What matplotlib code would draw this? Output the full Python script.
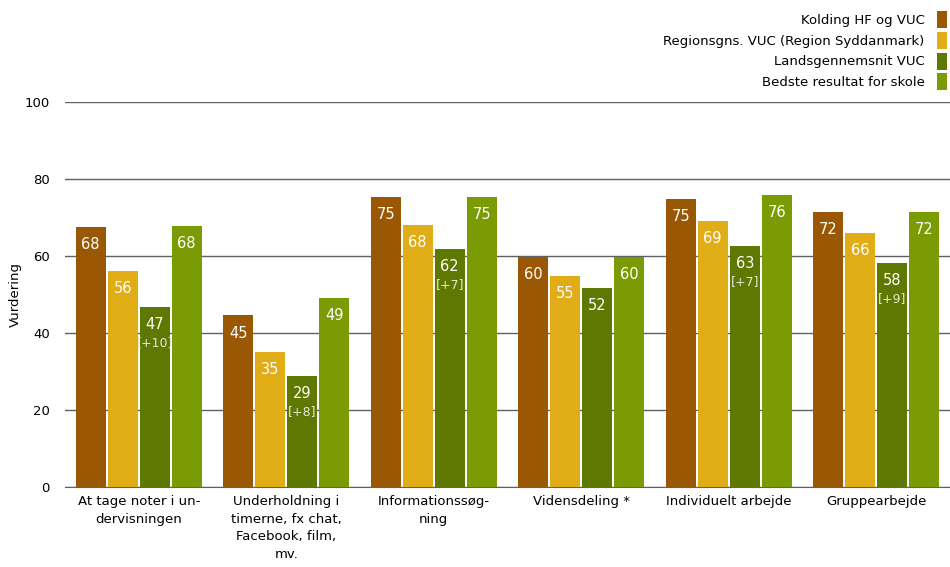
import numpy as np
import matplotlib
matplotlib.use('Agg')
import matplotlib.pyplot as plt

# Data
kategorier = ['At tage noter i un-\ndervisningen',
              'Underholdning i\ntimerne, fx chat,\nFacebook, film,\nmv.',
              'Informationssøg-\nning',
              'Vidensdeling *',
              'Individuelt arbejde',
              'Gruppearbejde']
serier = ['Kolding HF og VUC',
          'Regionsgns. VUC (Region Syddanmark)',
          'Landsgennemsnit VUC',
          'Bedste resultat for skole']
kolding = [67.6, 44.6, 75.3, 59.7, 74.8, 71.5]
region = [56.1, 35.1, 68.0, 54.8, 69.1, 66.0]
lands = [46.8, 28.8, 61.8, 51.7, 62.6, 58.2]
bedste = [67.8, 49.1, 75.3, 59.7, 75.8, 71.5]
forskel = ['[+10]', '[+8]', '[+7]', '', '[+7]', '[+9]']
yticks = [0, 20, 40, 60, 80, 100]

farver = ['#9B5804', '#E0AD17', '#5F7801', '#7A9B03']

fig = plt.figure(figsize=(9.5, 5.67), dpi=100)
ax = fig.add_axes([0.0684, 0.141, 0.9316, 0.679])

x = np.arange(len(kategorier))
bw = 0.205
step = 0.217
alle = [kolding, region, lands, bedste]
for i, (vals, navn, c) in enumerate(zip(alle, serier, farver)):
    pos = x + (i - 1.5) * step
    ax.bar(pos, vals, width=bw, color=c, label=navn, zorder=3)
    # værdi inde i søjlen
    for p, v in zip(pos, vals):
        ax.text(p, v - 4.6, str(int(round(v))), ha='center', va='center',
                color='white', fontsize=10.5, zorder=4)
    if i == 2:
        for p, v, f in zip(pos, vals, forskel):
            if f:
                ax.text(p, v - 9.2, f, ha='center', va='center',
                        color='#E6E6D8', fontsize=9, zorder=4)

ax.set_xlim(-0.5, len(kategorier) - 0.5)
ax.set_ylim(0, 100)
ax.set_yticks(yticks)
ax.set_xticks(x)
ax.set_xticklabels(kategorier, fontsize=9.5, linespacing=1.45)
ax.tick_params(axis='y', length=0, pad=11, labelsize=9.5)
ax.tick_params(axis='x', length=0, pad=6)
ax.yaxis.grid(True, color='#606060', linewidth=1.0, zorder=0)
ax.set_axisbelow(True)
for s in ['top', 'right', 'left']:
    ax.spines[s].set_visible(False)
ax.spines['bottom'].set_color('#606060')
ax.set_ylabel('Vurdering', fontsize=9.5, labelpad=2)

ax.legend(loc='upper right', bbox_to_anchor=(0.997, 0.98),
          bbox_transform=fig.transFigure, frameon=False, markerfirst=False,
          fontsize=9.5, handlelength=0.8, handleheight=1.6,
          handletextpad=0.9, labelspacing=0.28, borderpad=0, borderaxespad=0)

fig.savefig('out.png', dpi=100)
